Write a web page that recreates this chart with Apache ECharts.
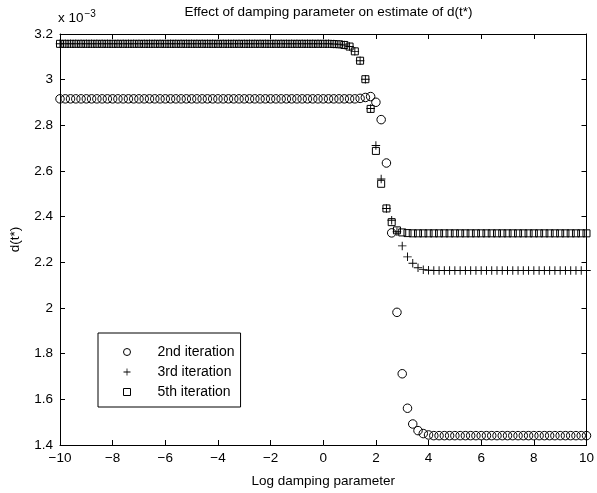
<!DOCTYPE html>
<html>
<head>
<meta charset="utf-8">
<script src="https://cdn.jsdelivr.net/npm/echarts@6/dist/echarts.min.js"></script>
<style>
  html, body { margin: 0; padding: 0; background: #fff; }
  #chart { width: 597px; height: 493px; }
</style>
</head>
<body>
<div id="chart"></div>
<script>
// Log damping parameter values (step 0.2)
const logDamping = [
  -10, -9.8, -9.6, -9.4, -9.2, -9, -8.8, -8.6, -8.4, -8.2,
  -8, -7.8, -7.6, -7.4, -7.2, -7, -6.8, -6.6, -6.4, -6.2,
  -6, -5.8, -5.6, -5.4, -5.2, -5, -4.8, -4.6, -4.4, -4.2,
  -4, -3.8, -3.6, -3.4, -3.2, -3, -2.8, -2.6, -2.4, -2.2,
  -2, -1.8, -1.6, -1.4, -1.2, -1, -0.8, -0.6, -0.4, -0.2,
  0, 0.2, 0.4, 0.6, 0.8, 1, 1.2, 1.4, 1.6, 1.8,
  2, 2.2, 2.4, 2.6, 2.8, 3, 3.2, 3.4, 3.6, 3.8,
  4, 4.2, 4.4, 4.6, 4.8, 5, 5.2, 5.4, 5.6, 5.8,
  6, 6.2, 6.4, 6.6, 6.8, 7, 7.2, 7.4, 7.6, 7.8,
  8, 8.2, 8.4, 8.6, 8.8, 9, 9.2, 9.4, 9.6, 9.8,
  10
];

// Estimates of d(t*), in units of 1e-3
const iter2 = [
  2.916, 2.916, 2.916, 2.916, 2.916, 2.916, 2.916, 2.916, 2.916, 2.916,
  2.916, 2.916, 2.916, 2.916, 2.916, 2.916, 2.916, 2.916, 2.916, 2.916,
  2.916, 2.916, 2.916, 2.916, 2.916, 2.916, 2.916, 2.916, 2.916, 2.916,
  2.916, 2.916, 2.916, 2.916, 2.916, 2.916, 2.916, 2.916, 2.916, 2.916,
  2.916, 2.916, 2.916, 2.916, 2.916, 2.916, 2.916, 2.916, 2.916, 2.916,
  2.916, 2.916, 2.916, 2.916, 2.916, 2.916, 2.916, 2.918, 2.922, 2.926,
  2.901, 2.825, 2.635, 2.329, 1.981, 1.712, 1.561, 1.492, 1.463, 1.450,
  1.444, 1.441, 1.441, 1.441, 1.441, 1.441, 1.441, 1.441, 1.441, 1.441,
  1.441, 1.441, 1.441, 1.441, 1.441, 1.441, 1.441, 1.441, 1.441, 1.441,
  1.441, 1.441, 1.441, 1.441, 1.441, 1.441, 1.441, 1.441, 1.441, 1.441,
  1.441
];

const iter3 = [
  3.157, 3.157, 3.157, 3.157, 3.157, 3.157, 3.157, 3.157, 3.157, 3.157,
  3.157, 3.157, 3.157, 3.157, 3.157, 3.157, 3.157, 3.157, 3.157, 3.157,
  3.157, 3.157, 3.157, 3.157, 3.157, 3.157, 3.157, 3.157, 3.157, 3.157,
  3.157, 3.157, 3.157, 3.157, 3.157, 3.157, 3.157, 3.157, 3.157, 3.157,
  3.157, 3.157, 3.157, 3.157, 3.157, 3.157, 3.157, 3.157, 3.157, 3.157,
  3.157, 3.157, 3.156, 3.155, 3.152, 3.145, 3.124, 3.083, 3.002, 2.874,
  2.712, 2.565, 2.436, 2.384, 2.334, 2.272, 2.224, 2.196, 2.176, 2.168,
  2.165, 2.164, 2.164, 2.164, 2.164, 2.164, 2.164, 2.164, 2.164, 2.164,
  2.164, 2.164, 2.164, 2.164, 2.164, 2.164, 2.164, 2.164, 2.164, 2.164,
  2.164, 2.164, 2.164, 2.164, 2.164, 2.164, 2.164, 2.164, 2.164, 2.164,
  2.164
];

const iter5 = [
  3.157, 3.157, 3.157, 3.157, 3.157, 3.157, 3.157, 3.157, 3.157, 3.157,
  3.157, 3.157, 3.157, 3.157, 3.157, 3.157, 3.157, 3.157, 3.157, 3.157,
  3.157, 3.157, 3.157, 3.157, 3.157, 3.157, 3.157, 3.157, 3.157, 3.157,
  3.157, 3.157, 3.157, 3.157, 3.157, 3.157, 3.157, 3.157, 3.157, 3.157,
  3.157, 3.157, 3.157, 3.157, 3.157, 3.157, 3.157, 3.157, 3.157, 3.157,
  3.157, 3.157, 3.156, 3.155, 3.152, 3.145, 3.124, 3.083, 3.002, 2.872,
  2.688, 2.544, 2.436, 2.376, 2.340, 2.331, 2.328, 2.327, 2.327, 2.327,
  2.327, 2.327, 2.327, 2.327, 2.327, 2.327, 2.327, 2.327, 2.327, 2.327,
  2.327, 2.327, 2.327, 2.327, 2.327, 2.327, 2.327, 2.327, 2.327, 2.327,
  2.327, 2.327, 2.327, 2.327, 2.327, 2.327, 2.327, 2.327, 2.327, 2.327,
  2.327
];

const seriesNames = ['2nd iteration', '3rd iteration', '5th iteration'];
const titleText = 'Effect of damping parameter on estimate of d(t*)';
const xName = 'Log damping parameter';
const yName = 'd(t*)';

const FONT = '"Liberation Sans", Arial, Helvetica, sans-serif';
const FS = 13.5;
// Marker shapes as paths so they keep a square aspect in the legend too
const PLUS = 'path://M4.45,0H5.55V4.45H10V5.55H5.55V10H4.45V5.55H0V4.45H4.45Z';
const SQUARE = 'path://M0,0H10V10H0Z';

function pairs(xs, ys) {
  return xs.map((x, i) => [x, ys[i]]);
}

const hollow = { color: 'rgba(0,0,0,0)', borderColor: '#000', borderWidth: 1, opacity: 1 };

const chart = echarts.init(document.getElementById('chart'), null, { renderer: 'canvas' });

const axisCommon = {
  axisLine: { show: true, onZero: false, lineStyle: { color: '#000', width: 1 } },
  axisTick: { show: true, inside: true, length: 5, lineStyle: { color: '#000', width: 1 } },
  splitLine: { show: false }
};

chart.setOption({
  animation: false,
  backgroundColor: '#fff',
  textStyle: { fontFamily: FONT },
  title: {
    text: titleText,
    left: 323.5,
    textAlign: 'center',
    top: 0,
    textStyle: { fontFamily: FONT, fontSize: FS, fontWeight: 'normal', color: '#000' }
  },
  grid: { left: 60, right: 10, top: 34, bottom: 41.5, containLabel: false },
  legend: {
    orient: 'vertical',
    left: 98,
    top: 333,
    padding: [11, 6, 7, 25],
    itemWidth: 7,
    itemHeight: 7,
    itemGap: 4,
    symbolKeepAspect: true,
    backgroundColor: '#fff',
    borderColor: '#000',
    borderWidth: 1,
    borderRadius: 0,
    textStyle: { fontFamily: FONT, fontSize: 14, color: '#000', lineHeight: 16, padding: [0, 0, 0, 22] },
    data: [
      { name: seriesNames[0], icon: 'circle', itemStyle: { color: 'rgba(0,0,0,0)', borderColor: '#000', borderWidth: 1 } },
      { name: seriesNames[1], icon: PLUS, itemStyle: { color: '#000', borderWidth: 0 } },
      { name: seriesNames[2], icon: SQUARE, itemStyle: { color: 'rgba(0,0,0,0)', borderColor: '#000', borderWidth: 1 } }
    ]
  },
  graphic: [{
    type: 'text',
    left: 58,
    top: 9,
    style: {
      text: 'x 10{sup|−3}',
      font: FS + 'px ' + FONT,
      fill: '#000',
      rich: { sup: { fontSize: 10, fontFamily: FONT, verticalAlign: 'top', padding: [0, 0, 8, 1] } }
    }
  }],
  xAxis: [
    Object.assign({
      type: 'value', position: 'bottom', min: -10, max: 10, interval: 2,
      name: xName, nameLocation: 'middle', nameGap: 29,
      nameTextStyle: { fontFamily: FONT, fontSize: FS, color: '#000' },
      axisLabel: {
        color: '#000', fontFamily: FONT, fontSize: FS, margin: 6,
        formatter: v => String(v).replace('-', '−')
      }
    }, axisCommon),
    Object.assign({
      type: 'value', position: 'top', min: -10, max: 10, interval: 2,
      axisLabel: { show: false }
    }, axisCommon)
  ],
  yAxis: [
    Object.assign({
      type: 'value', position: 'left', min: 1.4, max: 3.2, interval: 0.2,
      name: yName, nameLocation: 'middle', nameGap: 38,
      nameTextStyle: { fontFamily: FONT, fontSize: FS, color: '#000' },
      axisLabel: {
        color: '#000', fontFamily: FONT, fontSize: FS, margin: 7,
        formatter: v => String(Math.round(v * 10) / 10)
      }
    }, axisCommon),
    Object.assign({
      type: 'value', position: 'right', min: 1.4, max: 3.2, interval: 0.2,
      axisLabel: { show: false }
    }, axisCommon)
  ],
  series: [
    {
      name: seriesNames[0], type: 'scatter', xAxisIndex: 0, yAxisIndex: 0,
      symbol: 'circle', symbolSize: 8.5, itemStyle: hollow,
      emphasis: { disabled: true },
      data: pairs(logDamping, iter2)
    },
    {
      name: seriesNames[1], type: 'scatter', xAxisIndex: 0, yAxisIndex: 0,
      symbol: PLUS, symbolSize: 8.5, symbolKeepAspect: true,
      itemStyle: { color: '#000', opacity: 1 },
      emphasis: { disabled: true },
      data: pairs(logDamping, iter3)
    },
    {
      name: seriesNames[2], type: 'scatter', xAxisIndex: 0, yAxisIndex: 0,
      symbol: SQUARE, symbolSize: 7, symbolKeepAspect: true, itemStyle: hollow,
      emphasis: { disabled: true },
      data: pairs(logDamping, iter5)
    }
  ]
});
</script>
</body>
</html>
